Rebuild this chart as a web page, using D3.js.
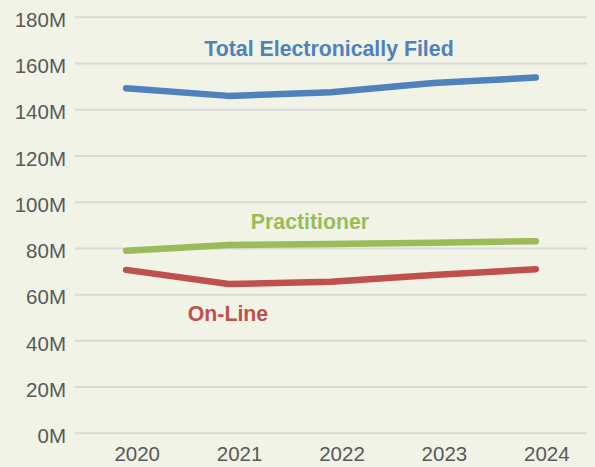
<!DOCTYPE html>
<html lang="en">
<head>
  <meta charset="UTF-8" />
  <title>Electronically Filed Returns</title>
  <script src="https://d3js.org/d3.v7.min.js"></script>
  <style>
    body {
      margin: 0;
      background-color: #f0f3e6;
      font-family: "Liberation Sans", Arial, sans-serif;
    }
    svg {
      display: block;
    }
    .grid line {
      stroke: #d9d9d9;
      stroke-width: 2px;
    }
    .axis text {
      fill: #595959;
      font-size: 20.5px;
    }
    .series {
      fill: none;
      stroke-width: 6.5px;
      stroke-linecap: round;
      stroke-linejoin: round;
    }
    .label {
      font-weight: bold;
      font-size: 21.3px;
      text-anchor: middle;
    }
  </style>
</head>
<body>
  <svg width="595" height="467"></svg>

  <script>
    // data, in millions
    const years = ["2020", "2021", "2022", "2023", "2024"];
    const totalFiled = [149.3, 146, 147.6, 151.6, 153.9];
    const practitioner = [79, 81.5, 81.9, 82.5, 83.1];
    const onLine = [70.7, 64.6, 65.6, 68.5, 71];
    const yTicks = [0, 20, 40, 60, 80, 100, 120, 140, 160, 180];

    const seriesList = [
      { name: "Total Electronically Filed", values: totalFiled, color: "#4f81bd", lx: 329, ly: 55.5 },
      { name: "Practitioner", values: practitioner, color: "#9bbb59", lx: 310, ly: 228.5 },
      { name: "On-Line", values: onLine, color: "#c0504d", lx: 228, ly: 320.5 }
    ];

    const svg = d3.select("svg");
    const plotLeft = 75, plotRight = 587, plotTop = 17.3, plotBottom = 433.3;

    const x = d3.scaleBand().domain(years).range([plotLeft, plotRight]);
    const y = d3.scaleLinear().domain([0, 180]).range([plotBottom, plotTop]);

    // gridlines
    svg.append("g")
      .attr("class", "grid")
      .selectAll("line")
      .data(yTicks)
      .join("line")
      .attr("x1", plotLeft)
      .attr("x2", plotRight)
      .attr("y1", d => y(d))
      .attr("y2", d => y(d));

    // y axis labels
    const yAxis = svg.append("g")
      .attr("class", "axis")
      .attr("transform", `translate(${plotLeft},0)`)
      .call(d3.axisLeft(y).tickValues(yTicks).tickFormat(d => d + "M").tickSize(0).tickPadding(9));
    yAxis.select(".domain").remove();
    yAxis.selectAll("text").attr("dy", "0.45em");

    // x axis labels (sit a little right of the points, as in the original)
    const xAxis = svg.append("g")
      .attr("class", "axis")
      .attr("transform", `translate(0,${plotBottom})`)
      .call(d3.axisBottom(x).tickSize(0).tickPadding(13));
    xAxis.select(".domain").remove();
    xAxis.selectAll("text").attr("dx", 11);

    const line = d3.line()
      .x((d, i) => x(years[i]) + x.bandwidth() / 2)
      .y(d => y(d));

    svg.append("g")
      .selectAll("path")
      .data(seriesList)
      .join("path")
      .attr("class", "series")
      .attr("stroke", d => d.color)
      .attr("d", d => line(d.values));

    svg.append("g")
      .selectAll("text")
      .data(seriesList)
      .join("text")
      .attr("class", "label")
      .attr("fill", d => d.color)
      .attr("x", d => d.lx)
      .attr("y", d => d.ly)
      .text(d => d.name);
  </script>
</body>
</html>
